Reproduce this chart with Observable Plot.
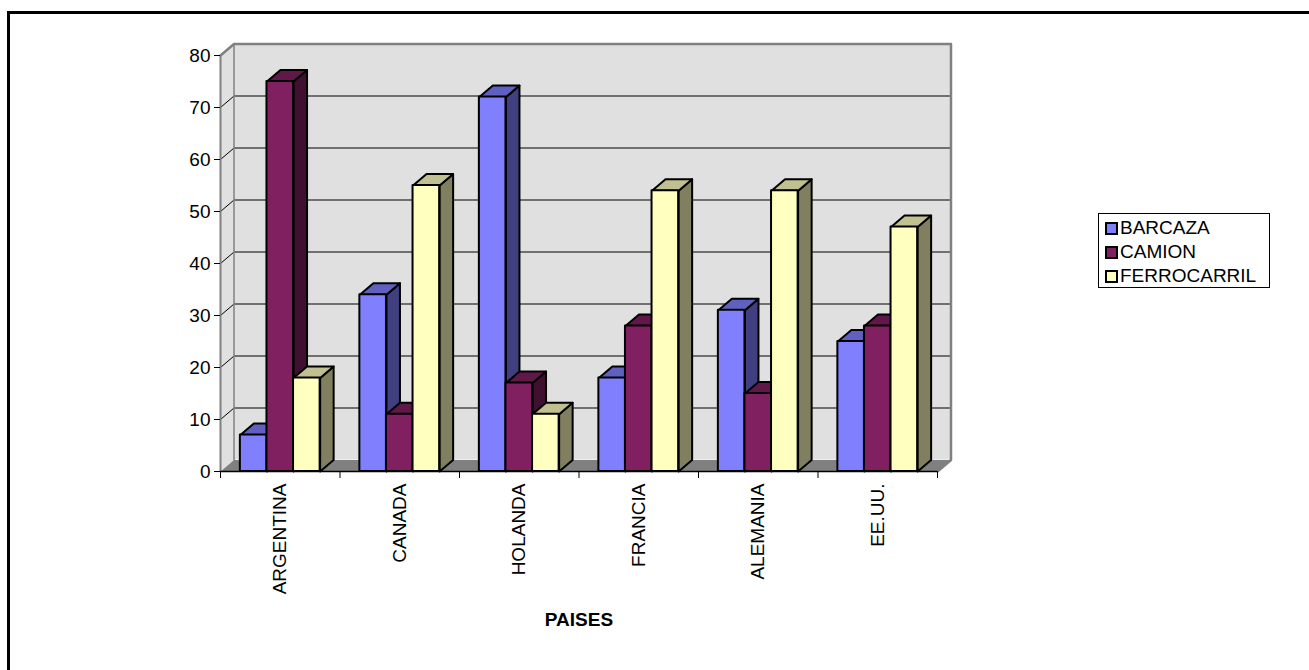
<!DOCTYPE html>
<html>
<head>
<meta charset="utf-8">
<script src="https://cdn.jsdelivr.net/npm/d3@7"></script>
<script src="https://cdn.jsdelivr.net/npm/@observablehq/plot@0.6"></script>
<style>
html, body { margin: 0; padding: 0; background: #fff; overflow: hidden; width: 1309px; height: 670px; }
#wrap { position: relative; width: 1309px; height: 670px; font-family: "Liberation Sans", Arial, sans-serif; }
#chart { position: absolute; left: 0; top: 0; }
#frame { position: absolute; left: 7px; top: 11px; width: 1400px; height: 800px; border: 3px solid #000; pointer-events: none; }
#legend { position: absolute; left: 1098px; top: 213px; width: 172px; height: 75px; border: 1px solid #000; background: #fff; box-sizing: border-box; padding: 2px 0 0 6px; }
#legend .row { display: flex; align-items: center; height: 24px; font-size: 19px; line-height: 24px; color: #000; white-space: nowrap; }
#legend .sw { width: 9px; height: 9px; border: 2px solid #000; margin-right: 2px; flex: none; }
</style>
</head>
<body>
<div id="wrap">
  <div id="chart"></div>
  <div id="legend"></div>
  <div id="frame"></div>
</div>
<script>
// ---- data ----
const categories = ["ARGENTINA", "CANADA", "HOLANDA", "FRANCIA", "ALEMANIA", "EE.UU."];
const seriesNames = ["BARCAZA", "CAMION", "FERROCARRIL"];
const barcaza = [7, 34, 72, 18, 31, 25];
const camion = [75, 11, 17, 28, 15, 28];
const ferrocarril = [18, 55, 11, 54, 54, 47];
const yTicks = [0, 10, 20, 30, 40, 50, 60, 70, 80];
const xLabel = "PAISES";

// ---- styles ----
const frontColors = ["#8080FF", "#802060", "#FFFFC0"];
const sideColors = ["#404080", "#401030", "#808060"];
const topColors = ["#6060C0", "#601848", "#C0C090"];

const W = 1309, H = 670;
const mL = 220, mR = 372, mT = 55, mB = 199;
const nCat = categories.length;
const yMax = 80;
const pxPerX = (W - mL - mR) / nCat;
const pxPerY = (H - mT - mB) / yMax;
const DX = 13.5 / pxPerX;   // depth offset in x units
const DY = 11.5 / pxPerY;   // depth offset in y units
const barW = 0.2225;
const gap = (1 - 3 * barW) / 2;

const seriesValues = [barcaza, camion, ferrocarril];

// build bar geometry
const fronts = [], sides = [], tops = [];
seriesValues.forEach((vals, s) => {
  const fr = [], sd = [], tp = [];
  vals.forEach((v, i) => {
    const x1 = i + gap + s * barW, x2 = x1 + barW;
    const id = s + "-" + i;
    fr.push({x1, x2, v});
    sd.push({id, x: x2, y: 0}, {id, x: x2 + DX, y: DY}, {id, x: x2 + DX, y: v + DY}, {id, x: x2, y: v});
    tp.push({id, x: x1, y: v}, {id, x: x2, y: v}, {id, x: x2 + DX, y: v + DY}, {id, x: x1 + DX, y: v + DY});
  });
  fronts.push(fr); sides.push(sd); tops.push(tp);
});

// walls
const sideWall = [{id: "w", x: 0, y: 0}, {id: "w", x: DX, y: DY}, {id: "w", x: DX, y: yMax + DY}, {id: "w", x: 0, y: yMax}];
const floor = [{id: "f", x: 0, y: 0}, {id: "f", x: nCat, y: 0}, {id: "f", x: nCat + DX, y: DY}, {id: "f", x: DX, y: DY}];
const grid = yTicks.filter(t => t > 0 && t < yMax).flatMap(t => [
  {id: t, x: 0, y: t}, {id: t, x: DX, y: t + DY}, {id: t, x: nCat + DX, y: t + DY}
]);
const wallEdge = [
  {id: "e", x: 0, y: yMax}, {id: "e", x: DX, y: yMax + DY}, {id: "e", x: nCat + DX, y: yMax + DY},
  {id: "e", x: nCat + DX, y: DY}, {id: "e", x: nCat, y: 0}
];
const backEdge = [{id: "b", x: DX, y: DY}, {id: "b", x: DX, y: yMax + DY}];
const boundaries = d3.range(nCat + 1);
const centers = d3.range(nCat).map(i => i + 0.5);

const marks = [
  // back wall
  Plot.rect([0], {x1: DX, x2: nCat + DX, y1: DY, y2: yMax + DY, fill: "#e0e0e0"}),
  Plot.line(sideWall, {x: "x", y: "y", z: "id", fill: "#e0e0e0", stroke: "none", curve: "linear-closed"}),
  Plot.line(grid, {x: "x", y: "y", z: "id", stroke: "#000", strokeWidth: 1}),
  Plot.line(backEdge, {x: "x", y: "y", z: "id", stroke: "#808080", strokeWidth: 1.5}),
  Plot.line(wallEdge, {x: "x", y: "y", z: "id", stroke: "#808080", strokeWidth: 2.5}),
  Plot.line(floor, {x: "x", y: "y", z: "id", fill: "#808080", stroke: "none", curve: "linear-closed"}),
  // front y axis line
  Plot.ruleX([0], {y1: 0, y2: yMax, stroke: "#808080", strokeWidth: 2}),
];

seriesValues.forEach((vals, s) => {
  marks.push(
    Plot.line(sides[s], {x: "x", y: "y", z: "id", fill: sideColors[s], stroke: "#000", strokeWidth: 2, strokeLinejoin: "round", curve: "linear-closed"}),
    Plot.line(tops[s], {x: "x", y: "y", z: "id", fill: topColors[s], stroke: "#000", strokeWidth: 2, strokeLinejoin: "round", curve: "linear-closed"}),
    Plot.rect(fronts[s], {x1: "x1", x2: "x2", y1: 0, y2: "v", fill: frontColors[s], stroke: "#000", strokeWidth: 2, strokeLinejoin: "round"})
  );
});

marks.push(
  Plot.ruleY([0], {x1: 0, x2: nCat, stroke: "#000", strokeWidth: 1.5}),
  Plot.axisY(yTicks, {tickSize: 6, tickPadding: 4, fontSize: 19, label: null, stroke: "#000"}),
  Plot.axisX(boundaries, {tickSize: 7, tickFormat: () => "", label: null, stroke: "#000"}),
  Plot.text(centers, {x: d => d, y: 0, text: d => categories[Math.floor(d)], rotate: -90, textAnchor: "end", dy: 12, fontSize: 19, fill: "#000"}),
  Plot.text([xLabel], {x: nCat / 2, y: 0, text: d => d, dy: 148, fontSize: 19, fontWeight: "bold", fill: "#000"})
);

const chart = Plot.plot({
  width: W, height: H,
  marginLeft: mL, marginRight: mR, marginTop: mT, marginBottom: mB,
  x: {type: "linear", domain: [0, nCat], axis: null},
  y: {type: "linear", domain: [0, yMax], axis: null},
  style: {background: "transparent", fontFamily: "'Liberation Sans', Arial, sans-serif", fontSize: "19px", color: "#000"},
  marks
});
document.getElementById("chart").appendChild(chart);

// legend
const legend = document.getElementById("legend");
seriesNames.forEach((name, s) => {
  const row = document.createElement("div");
  row.className = "row";
  const sw = document.createElement("span");
  sw.className = "sw";
  sw.style.background = frontColors[s];
  const tx = document.createElement("span");
  tx.textContent = name;
  row.appendChild(sw); row.appendChild(tx);
  legend.appendChild(row);
});
</script>
</body>
</html>
